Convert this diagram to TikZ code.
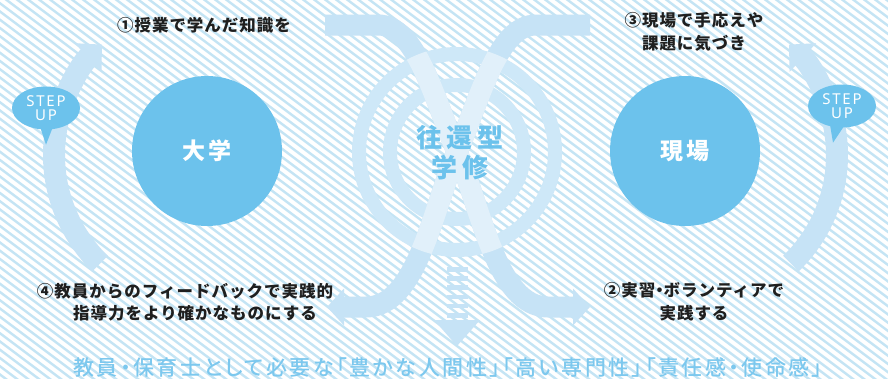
\documentclass[tikz,border=0pt]{standalone}
\usepackage{fontspec}
\usetikzlibrary{arrows.meta,calc,shapes.geometric}
\newfontfamily\jplbl{Noto Sans CJK JP}[LetterSpace=6]
\newfontfamily\jpbig{Noto Sans CJK JP}[LetterSpace=16]
\newfontfamily\jpbot{Noto Sans CJK JP Medium}[LetterSpace=12,RawFeature=+palt]
\newfontfamily\stepfont{Noto Sans}[LetterSpace=12]
\newcommand\narrowdot{{\addfontfeatures{RawFeature=+palt}・}}
\definecolor{stripe}{HTML}{C4E4F4}
\definecolor{band}{HTML}{C6E3F6}
\definecolor{pale}{HTML}{E1F0FA}
\definecolor{ringc}{HTML}{CEE8F8}
\definecolor{sky}{HTML}{6CC2EC}
\definecolor{bottxt}{HTML}{7CC8EE}
\begin{document}
\begin{tikzpicture}[x=1pt,y=-1pt,
  stripeline/.style={draw=stripe,line width=2.4pt},
  bandline/.style={draw=band,line width=21pt},
  paleline/.style={draw=pale,line width=21pt},
  stepband/.style={draw=band,line width=22pt},
  ringline/.style={draw=ringc,line width=14pt},
  bigc/.style={circle,fill=sky,minimum size=150pt,inner sep=0,text=white,
    font=\jpbig\bfseries\fontsize{23}{23}\selectfont},
  lbl/.style={inner sep=0,text=black!88,align=center,
    font=\jplbl\bfseries\fontsize{16.5}{23}\selectfont},
  ctrtxt/.style={inner sep=0,text=sky,align=center,
    font=\jpbig\bfseries\fontsize{26}{29.5}\selectfont},
  bottomtxt/.style={inner sep=0,text=bottxt,
    font=\jpbot\fontsize{21}{21}\selectfont},
  bubble/.style={ellipse,fill=sky,minimum width=68pt,minimum height=43pt,inner sep=0,
    text=white,align=center,font=\stepfont\bfseries\fontsize{15}{14}\selectfont},
  bar/.style={fill=band}
]
% background
\fill[white] (0,0) rectangle (888,378);
\begin{scope}
  \clip (0,0) rectangle (888,378);
  \foreach \i in {-50,...,82} \draw[stripeline] (\i*11,-5) -- ++(520,390);
\end{scope}
\useasboundingbox (0,0) rectangle (888,378);

% step-up arcs
\draw[stepband,-{Triangle[width=38pt,length=19pt]}]
  ([shift={(134:151)}]205,155) arc[start angle=134,end angle=227,radius=151];
\draw[stepband,-{Triangle[width=38pt,length=19pt]}]
  ([shift={(46:151)}]686,155) arc[start angle=46,end angle=-47,radius=151];

% crossing bands
\coordinate (c) at (457,152);
\coordinate (a0) at (325,25);
\coordinate (a1) at (590,307);
\coordinate (b0) at (590,25);
\coordinate (b1) at (327,307);
\draw[bandline,-{Triangle[width=36pt,length=17pt]}] (a0) -- (378,25)
  .. controls (416,25) and (433,96) .. (c)
  .. controls (481,208) and (497,307) .. (548,307) -- (a1);
\draw[bandline,-{Triangle[width=36pt,length=17pt]}] (b0) -- (536,25)
  .. controls (498,25) and (481,96) .. (c)
  .. controls (433,208) and (417,307) .. (366,307) -- (b1);

% rings
\draw[ringline] (c) circle[radius=98];
\draw[ringline] (c) circle[radius=67];
\begin{scope}
  \clip (c) circle[radius=105];
  \draw[paleline] (a0) -- (378,25)
    .. controls (416,25) and (433,96) .. (c)
    .. controls (481,208) and (497,307) .. (548,307) -- (a1);
  \draw[paleline] (b0) -- (536,25)
    .. controls (498,25) and (481,96) .. (c)
    .. controls (433,208) and (417,307) .. (366,307) -- (b1);
\end{scope}

% down arrow
\foreach \k in {0,...,5} \fill[bar] (447,267+\k*9.2) rectangle (468,271.5+\k*9.2);
\fill[band] (434,320) -- (480,320) -- (457,346) -- cycle;

% circles
\node[bigc] (dai) at (207,151) {大学};
\node[bigc] (gen) at (685,151) {現場};

% center text
\node[ctrtxt] (ctr) at (460,152.5) {往還型\\学修};

% labels
\node[lbl] (l1) at (204,25.5) {①授業で学んだ知識を};
\node[lbl] (l3) at (694,32) {③現場で手応えや\\課題に気づき};
\node[lbl] (l4a) at (185,291) {④教員からのフィードバックで実践的};
\node[lbl] (l4b) at (195,313) {指導力をより確かなものにする};
\node[lbl] (l2) at (694,302) {②実習\narrowdot ボランティアで\\実践する};

% step up bubbles
\node[bubble] (su1) at (46,108) {STEP\\UP};
\fill[sky] ($(su1.south)+(-6,-3)$) -- ($(su1.south)+(7,-3)$) -- ($(su1.south)+(0,15)$) -- cycle;
\node[bubble] (su2) at (842,106) {STEP\\UP};
\fill[sky] ($(su2.south)+(-12,-3)$) -- ($(su2.south)+(3,-3)$) -- ($(su2.south)+(-9,15)$) -- cycle;

% bottom text
\node[bottomtxt] (bt) at (448,367) {教員・保育士として必要な「豊かな人間性」「高い専門性」「責任感・使命感」};
\end{tikzpicture}
\end{document}
